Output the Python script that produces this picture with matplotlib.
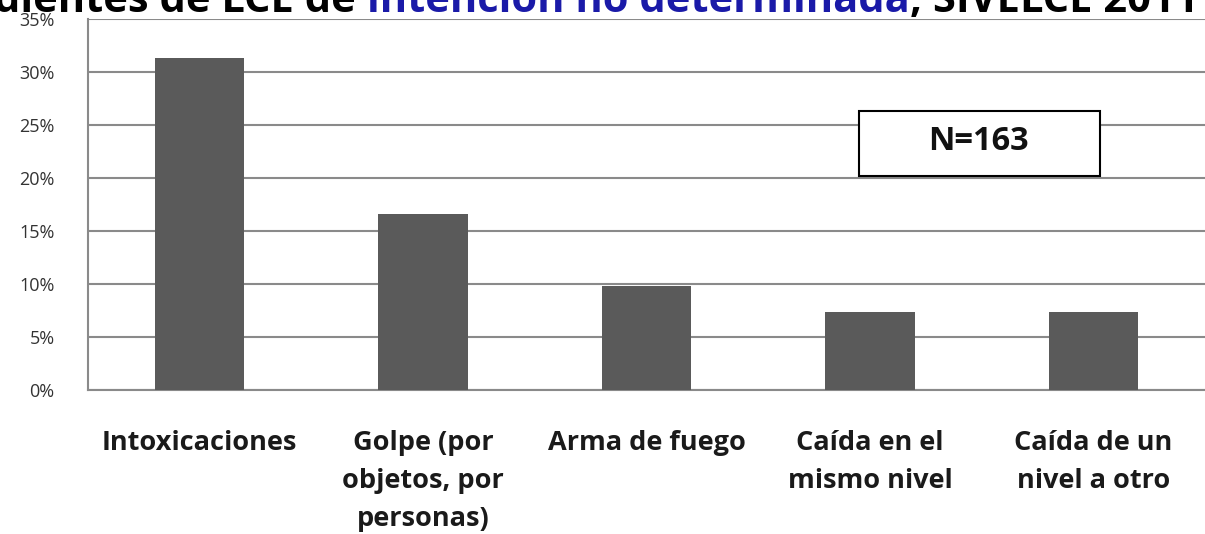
import numpy as np
import matplotlib.pyplot as plt
from matplotlib.patches import Rectangle
from matplotlib.ticker import PercentFormatter

# datos
categorias = ['Intoxicaciones', 'Golpe (por\nobjetos, por\npersonas)', 'Arma de fuego',
              'Caída en el\nmismo nivel', 'Caída de un\nnivel a otro']
porcentajes = [31.3, 16.6, 9.8, 7.4, 7.4]
yticks = [0, 5, 10, 15, 20, 25, 30, 35]
n_total = 'N=163'

W, H = 1205, 534
fig = plt.figure(figsize=(W/100, H/100), dpi=100)
ax = fig.add_axes([88/W, 1 - 390/H, 1 - 88/W, 371/H])

x = np.arange(len(categorias))
ax.bar(x, porcentajes, width=0.4, color='#5a5a5a', zorder=3)

ax.set_xlim(-0.5, len(categorias) - 0.5)
ax.set_ylim(0, 35)
ax.set_yticks(yticks)
ax.yaxis.set_major_formatter(PercentFormatter(decimals=0))
ax.grid(axis='y', color='#8a8a8a', linewidth=1.5, zorder=1)
ax.set_xticks(x)
ax.set_xticklabels(categorias, fontfamily='Open Sans', fontweight='bold', fontsize=19.5,
                   color='#1a1a1a', linespacing=1.6)
ax.tick_params(axis='x', length=0, pad=29)
ax.tick_params(axis='y', length=0, pad=24, labelsize=13, labelcolor='#333333')
for lbl in ax.get_yticklabels():
    lbl.set_fontfamily('Open Sans')

for s in ['top', 'right']:
    ax.spines[s].set_visible(False)
ax.spines['left'].set_color('#8a8a8a')
ax.spines['left'].set_linewidth(1.5)
ax.spines['bottom'].set_color('#8a8a8a')
ax.spines['bottom'].set_linewidth(1.5)

# cuadro N
fig.patches.append(Rectangle((859/W, 1 - 176/H), 241/W, 65/H, transform=fig.transFigure,
                             facecolor='white', edgecolor='black', linewidth=1.5, zorder=5))
fig.text(978/W, 1 - 141/H, n_total, ha='center', va='center', fontfamily='Open Sans',
         fontweight='bold', fontsize=23.5, color='#111111', zorder=6)

# titulo (cortado arriba)
ty = 1 - 12/H
t2 = fig.text(367/W, ty, 'intención no determinada', color='#1a1aa8', fontsize=30,
              fontfamily='Open Sans', fontweight='bold', va='baseline', ha='left')
plt.annotate('dientes de LCE de ', xy=(0, 0), xycoords=t2, color='black', fontsize=30,
             fontfamily='Open Sans', fontweight='bold', va='bottom', ha='right',
             annotation_clip=False)
plt.annotate(', SIVELCE 2011 (', xy=(1, 0), xycoords=t2, color='black', fontsize=30,
             fontfamily='Open Sans', fontweight='bold', va='bottom', ha='left',
             annotation_clip=False)

fig.savefig('out.png', dpi=100)
